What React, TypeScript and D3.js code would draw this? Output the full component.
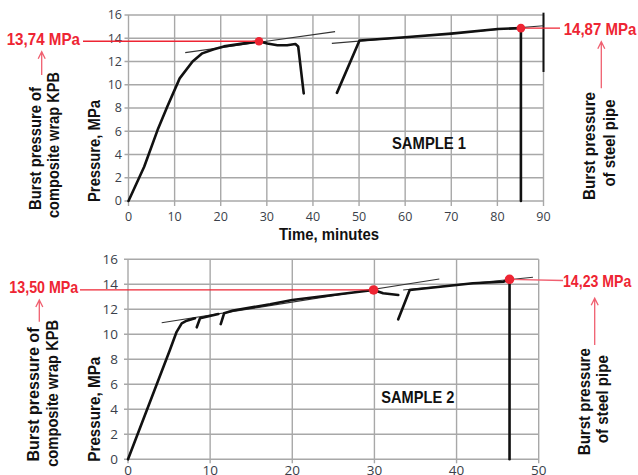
import React from 'react';
import * as d3 from 'd3';

type P = [number, number];

const xTicks1 = [0, 10, 20, 30, 40, 50, 60, 70, 80, 90];
const xTicks2 = [0, 10, 20, 30, 40, 50];
const yTicks = [0, 2, 4, 6, 8, 10, 12, 14, 16];

// Sample 1
const s1Rise: P[] = [[0, 0], [3.4, 2.95], [6.3, 6.1], [8.4, 8.1], [11.1, 10.55], [13.9, 12.0], [16, 12.7], [18.5, 13.05], [20.7, 13.3], [25.8, 13.6], [28.3, 13.74], [30.1, 13.55], [32.3, 13.4], [34.4, 13.4], [36.2, 13.5], [36.8, 13.3], [38, 9.25]];
const s1Second: P[] = [[45.2, 9.3], [50.1, 13.8], [60, 14.08], [70, 14.4], [80.1, 14.8], [85.1, 14.87]];
const s1Drop: P[] = [[85.1, 14.87], [85.1, 0]];
const s1Trend1: P[] = [[12.3, 12.76], [44.8, 14.57]];
const s1Trend2: P[] = [[44.1, 13.56], [90, 15.08]];
const s1Dots: P[] = [[28.3, 13.74], [85.1, 14.87]];
const s1FrameMark = [16.2, 11.1];
const s1Labels = ['13,74 MPa', '14,87 MPa'];

// Sample 2
const s2SegA: P[] = [[0, 0], [5.1, 8.74], [5.92, 10.2], [6.54, 10.88], [7.15, 11.09], [8.16, 11.28]];
const s2SegB: P[] = [[8.37, 10.56], [8.77, 11.28], [11.0, 11.62]];
const s2SegC: P[] = [[11.29, 10.82], [11.7, 11.68], [12.8, 11.9], [17.3, 12.4], [20, 12.75], [23.2, 13.0], [29.9, 13.55], [31.06, 13.28], [32.9, 13.14]];
const s2SegD: P[] = [[32.9, 11.2], [34.3, 13.54], [42.0, 14.08], [45.7, 14.2], [46.45, 14.4]];
const s2Drop: P[] = [[46.45, 14.4], [46.45, 0]];
const s2Trend1: P[] = [[4.1, 10.93], [37.9, 14.42]];
const s2Trend2: P[] = [[33.5, 13.55], [49.3, 14.56]];
const s2Dots: P[] = [[29.9, 13.55], [46.45, 14.4]];
const s2Labels = ['13,50 MPa', '14,23 MPa'];

const leftNote = ['Burst pressure of', 'composite wrap KPB'];
const rightNote = ['Burst pressure', 'of steel pipe'];
const yTitle = 'Pressure, MPa';
const xTitle = 'Time, minutes';
const sampleNames = ['SAMPLE 1', 'SAMPLE 2'];

const RED = '#ee2533';
const RED2 = '#f06070';
const GRID = '#a8a8a8';
const FONT = '"Liberation Sans", Arial, sans-serif';
const TICKFONT = '"Open Sans", "Liberation Sans", sans-serif';

function Rot({ x, y, len, size, children }: any) {
  return (
    <text transform={`translate(${x},${y}) rotate(-90)`} textAnchor="middle" fontFamily={FONT} fontWeight="bold" fontSize={size} textLength={len} lengthAdjust="spacingAndGlyphs" fill="#111">{children}</text>
  );
}

function Arrow({ x, tip, bottom }: any) {
  return <path d={`M${x},${bottom}L${x},${tip}M${x - 3.5},${tip + 7}L${x},${tip}L${x + 3.5},${tip + 7}`} stroke={RED2} strokeWidth={1.3} fill="none" />;
}

export default function App() {
  const x1 = d3.scaleLinear().domain([0, 90]).range([128.5, 543.5]);
  const y1 = d3.scaleLinear().domain([0, 16]).range([201, 15]);
  const x2 = d3.scaleLinear().domain([0, 50]).range([128, 538.7]);
  const y2 = d3.scaleLinear().domain([0, 16]).range([459.3, 259.3]);
  const l1 = d3.line<P>().x(d => x1(d[0])).y(d => y1(d[1]));
  const l2 = d3.line<P>().x(d => x2(d[0])).y(d => y2(d[1]));

  const grid = (xs: any, ys: any, xt: number[], tickSize: number, yLabX: number, xLabY: number, fs: number) => (
    <g>
      {yTicks.map(t => (
        <g key={'y' + t}>
          <line x1={xs.range()[0] - 4} x2={xs.range()[1]} y1={ys(t)} y2={ys(t)} stroke={GRID} strokeWidth={1.4} />
          <text x={yLabX} y={ys(t)} dy="0.35em" textAnchor="end" fontFamily={TICKFONT} fontSize={fs} fill="#3a3f4a">{t}</text>
        </g>
      ))}
      {xt.map(t => (
        <g key={'x' + t}>
          <line x1={xs(t)} x2={xs(t)} y1={ys.range()[1]} y2={ys.range()[0] + tickSize} stroke={GRID} strokeWidth={1.4} />
          <text x={xs(t)} y={xLabY} textAnchor="middle" fontFamily={TICKFONT} fontSize={fs} fill="#3a3f4a">{t}</text>
        </g>
      ))}
    </g>
  );

  const blk = { stroke: '#111', strokeWidth: 2.6, fill: 'none', strokeLinejoin: 'round' as const, strokeLinecap: 'round' as const };
  const thin = { stroke: '#333', strokeWidth: 1.1, fill: 'none' };

  return (
    <svg width={638} height={475} style={{ position: 'absolute', left: 0, top: 0, background: '#fff' }}>
      {/* Chart 1 */}
      {grid(x1, y1, xTicks1, 5, 122, 221, 12.5)}
      <line x1={x1(90)} x2={x1(90)} y1={y1(s1FrameMark[0])} y2={y1(s1FrameMark[1])} stroke="#111" strokeWidth={2} />
      <path d={l1(s1Trend1)!} {...thin} />
      <path d={l1(s1Trend2)!} {...thin} />
      <path d={l1(s1Rise)!} {...blk} />
      <path d={l1(s1Second)!} {...blk} />
      <path d={l1(s1Drop)!} {...blk} />
      <line x1={83} x2={x1(s1Dots[0][0])} y1={y1(s1Dots[0][1])} y2={y1(s1Dots[0][1])} stroke={RED} strokeWidth={1.3} />
      <line x1={x1(s1Dots[1][0])} x2={560} y1={y1(s1Dots[1][1])} y2={y1(s1Dots[1][1])} stroke={RED} strokeWidth={1.3} />
      {s1Dots.map((d, i) => <circle key={i} cx={x1(d[0])} cy={y1(d[1])} r={4.3} fill={RED} />)}
      <text x={6.7} y={45} fontFamily={FONT} fontWeight="bold" fontSize={17} fill={RED} textLength={73.3} lengthAdjust="spacingAndGlyphs">{s1Labels[0]}</text>
      <text x={563.7} y={35} fontFamily={FONT} fontWeight="bold" fontSize={17} fill={RED} textLength={72.6} lengthAdjust="spacingAndGlyphs">{s1Labels[1]}</text>
      <Arrow x={41.7} tip={51.7} bottom={75} />
      <Arrow x={601.3} tip={41.7} bottom={88.3} />
      <Rot x={41} y={148.5} len={123} size={17}>{leftNote[0]}</Rot>
      <Rot x={58.5} y={145} len={146} size={17}>{leftNote[1]}</Rot>
      <Rot x={100} y={151} len={102} size={16}>{yTitle}</Rot>
      <Rot x={594.5} y={146} len={108} size={17}>{rightNote[0]}</Rot>
      <Rot x={614.5} y={143} len={87} size={17}>{rightNote[1]}</Rot>
      <text x={392} y={149} fontFamily={FONT} fontWeight="bold" fontSize={17} fill="#111" textLength={74} lengthAdjust="spacingAndGlyphs">{sampleNames[0]}</text>
      <text x={279} y={239.5} fontFamily={FONT} fontWeight="bold" fontSize={17} fill="#111" textLength={100} lengthAdjust="spacingAndGlyphs">{xTitle}</text>

      {/* Chart 2 */}
      {grid(x2, y2, xTicks2, 4, 118, 475, 13.5)}
      <path d={l2(s2Trend1)!} {...thin} />
      <path d={l2(s2Trend2)!} {...thin} />
      <path d={l2(s2SegA)!} {...blk} />
      <path d={l2(s2SegB)!} {...blk} />
      <path d={l2(s2SegC)!} {...blk} />
      <path d={l2(s2SegD)!} {...blk} />
      <path d={l2(s2Drop)!} {...blk} />
      <line x1={80} x2={x2(s2Dots[0][0])} y1={y2(s2Dots[0][1])} y2={y2(s2Dots[0][1])} stroke={RED} strokeWidth={1.3} />
      <line x1={x2(s2Dots[1][0])} x2={563} y1={y2(s2Dots[1][1])} y2={y2(s2Dots[1][1]) + 1.2} stroke={RED2} strokeWidth={1.3} />
      {s2Dots.map((d, i) => <circle key={i} cx={x2(d[0])} cy={y2(d[1])} r={4.8} fill={RED} />)}
      <text x={9.3} y={293.3} fontFamily={FONT} fontWeight="bold" fontSize={17} fill={RED} textLength={69} lengthAdjust="spacingAndGlyphs">{s2Labels[0]}</text>
      <text x={563} y={286.7} fontFamily={FONT} fontWeight="bold" fontSize={17} fill={RED} textLength={68.3} lengthAdjust="spacingAndGlyphs">{s2Labels[1]}</text>
      <Arrow x={39.3} tip={300} bottom={321.7} />
      <Arrow x={594.7} tip={298.3} bottom={345} />
      <Rot x={39.3} y={394.5} len={134} size={17}>{leftNote[0]}</Rot>
      <Rot x={58.3} y={393.3} len={147} size={17}>{leftNote[1]}</Rot>
      <Rot x={100} y={409.2} len={105} size={16}>{yTitle}</Rot>
      <Rot x={589.7} y={401.7} len={107} size={17}>{rightNote[0]}</Rot>
      <Rot x={608} y={399.2} len={88} size={17}>{rightNote[1]}</Rot>
      <text x={381.3} y={403.3} fontFamily={FONT} fontWeight="bold" fontSize={17} fill="#111" textLength={73} lengthAdjust="spacingAndGlyphs">{sampleNames[1]}</text>
    </svg>
  );
}
